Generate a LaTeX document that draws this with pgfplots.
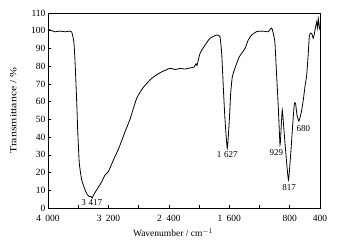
\documentclass[border=0pt]{standalone}
\usepackage{fontspec}
\setmainfont{Liberation Serif}
\usepackage{pgfplots}
\pgfplotsset{compat=1.18}
\begin{document}
\begin{tikzpicture}
\begin{axis}[
  scale only axis, width=272pt, height=195pt,
  x dir=reverse, xmin=400, xmax=4000, ymin=0, ymax=110,
  axis line style={line width=0.8pt},
  tick align=inside, tickpos=left, major tick length=3pt,
  tick style={line width=0.6pt, black},
  xtick={4000,3200,2400,1600,800,400},
  extra x ticks={3600,2800,2000,1200},
  extra x tick labels={},
  ytick={0,10,...,110},
  /pgf/number format/assume math mode=true,
  /pgf/number format/1000 sep={\hspace{0.45em}},
  tick label style={font=\fontsize{9.5}{11}\selectfont},
  xticklabel style={yshift=-4pt},
  yticklabel style={xshift=1pt},
  xlabel={Wavenumber / cm$^{-1}$},
  ylabel={\scalebox{1.25}[1]{Transmittance / \%}},
  label style={font=\fontsize{9.5}{11}\selectfont},
  xlabel style={at={(axis description cs:0.46,0)}, anchor=north, yshift=-17pt},
  ylabel style={at={(axis description cs:0,0.5)}, anchor=south, yshift=28pt},
  clip=false,
]
\addplot[black, line width=0.8pt, smooth, tension=0.3] coordinates {
(4000,101) (3973,100.4) (3907,99.4) (3841,99.8) (3775,99.4) (3709,99.8) (3686,99.3)
(3669,96.4) (3656,93) (3643,83.5) (3629,69.4) (3616,55.3) (3607,44) (3586,25.4)
(3554,15.8) (3524,12) (3490,8.3) (3460,6.6) (3430,6.4) (3417,5.6) (3395,7.5)
(3356,10.2) (3289,14.8) (3246,18.6) (3202,20.5) (3140,26.5) (3060,34) (2981,43)
(2915,50) (2826,61.9) (2739,68) (2628,73.1) (2518,76.3) (2385,78.8) (2319,78.1)
(2253,78.7) (2187,78.4) (2121,79) (2068,79.5) (2041,81.4) (2028,80.4) (1988,87.2)
(1922,91.9) (1856,95.7) (1767,97.6) (1724,96.6) (1701,87.2) (1680,68.4) (1657,49.6)
(1627,33.7) (1600,49.6) (1582,64.7) (1561,74) (1534,77.8) (1503,81.6) (1468,85.3)
(1437,87.2) (1393,90) (1349,94.8) (1304,97.6) (1238,99.5) (1172,99.8) (1106,99.5)
(1088,99.4) (1040,101.5) (1018,98.5) (996,93) (973,74) (952,57) (929,35.5)
(912,46.8) (899,55.3) (877,44) (850,29.9) (817,15.8) (784,32.7) (757,49.6)
(738,59.2) (722,58.6) (705,52.5) (680,49) (665,50.8) (642,55.3) (621,61)
(599,68.4) (576,75) (555,87.2) (542,96.6) (526,98.7) (510,98.5) (489,95.7)
(466,100.4) (444,105) (431,101.3) (423,107) (409,102.4) (400,100.4)
};
\begin{scope}[every node/.style={font=\fontsize{9}{10}\selectfont, inner sep=0pt}]
\node at (axis cs:3420,3.2) {3\hspace{0.3em}417};
\node at (axis cs:1627,30.3) {1\hspace{0.3em}627};
\node at (axis cs:977,31.4) {929};
\node at (axis cs:807,11.3) {817};
\node at (axis cs:621,45) {680};
\end{scope}
\end{axis}
\path (current axis.south west) ++(-48pt,-42pt);
\path (current axis.north east) ++(18pt,13pt);
\end{tikzpicture}
\end{document}
